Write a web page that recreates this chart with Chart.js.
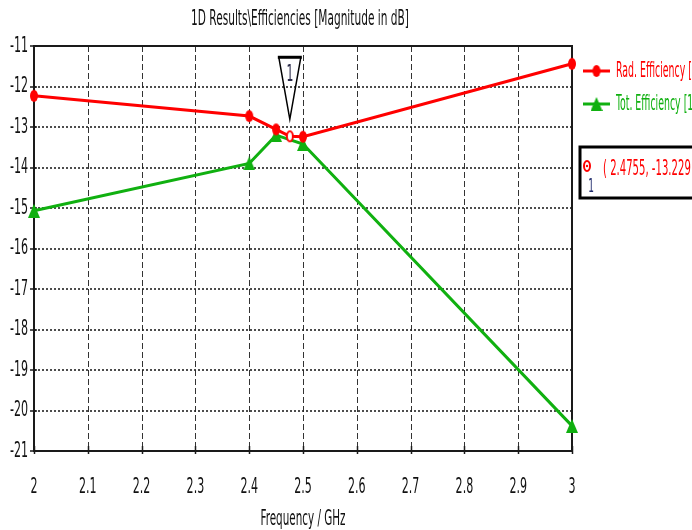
<!DOCTYPE html>
<html>
<head>
<meta charset="utf-8">
<title>1D Results - Efficiencies</title>
<script src="https://cdn.jsdelivr.net/npm/chart.js@4.4.1/dist/chart.umd.min.js"></script>
<style>
  html, body { margin: 0; padding: 0; background: #ffffff; }
  #wrap { width: 692px; height: 530px; }
</style>
</head>
<body>
<div id="wrap"><canvas id="chart" width="692" height="530"></canvas></div>
<script>
// Frequency sweep (GHz) and efficiencies (dB)
const radFreq = [2, 2.4, 2.45, 2.4755, 2.5, 3];
const radDb   = [-12.23, -12.73, -13.06, -13.229, -13.24, -11.44];
const totFreq = [2, 2.4, 2.45, 2.5, 3];
const totDb   = [-15.07, -13.9, -13.2, -13.42, -20.38];

// Marker 1 on the radiation efficiency curve
const markerFreq = [2.4755];
const markerDb   = [-13.229];
const markerIds  = ['1'];

// Axis ranges and labels
const xTicks = [2, 2.1, 2.2, 2.3, 2.4, 2.5, 2.6, 2.7, 2.8, 2.9, 3];
const yTicks = [-11, -12, -13, -14, -15, -16, -17, -18, -19, -20, -21];
const seriesNames = ['Rad. Efficiency [1]', 'Tot. Efficiency [1]'];
const titleText = '1D Results\\Efficiencies [Magnitude in dB]';
const xTitle = 'Frequency / GHz';

const RED = '#ff0000';
const GREEN = '#10b010';
const FONT = '"DejaVu Sans Condensed", "DejaVu Sans", sans-serif';
const TXT = { size: 11, sx: 1.0, sy: 1.95 };
const TICK = { sx: 1.12, sy: 2.0 };

function toPoints(xs, ys) { return xs.map((x, i) => ({ x: x, y: ys[i] })); }

// Small bitmap symbols used as point styles
function ellipseSymbol(w, h, fill, stroke, lw) {
  const c = document.createElement('canvas');
  c.width = w + 2; c.height = h + 2;
  const g = c.getContext('2d');
  g.beginPath();
  g.ellipse(c.width / 2, c.height / 2, w / 2 - (lw || 0) / 2, h / 2 - (lw || 0) / 2, 0, 0, Math.PI * 2);
  if (fill) { g.fillStyle = fill; g.fill(); }
  if (stroke) { g.strokeStyle = stroke; g.lineWidth = lw; g.stroke(); }
  return c;
}
function triangleSymbol(w, h, fill) {
  const c = document.createElement('canvas');
  c.width = w; c.height = h;
  const g = c.getContext('2d');
  g.beginPath();
  g.moveTo(w / 2, 0); g.lineTo(w, h); g.lineTo(0, h); g.closePath();
  g.fillStyle = fill; g.fill();
  return c;
}
const redDot = ellipseSymbol(8, 12, RED);
const greenTri = triangleSymbol(12, 14, GREEN);
const markerRing = ellipseSymbol(8, 12, '#ffffff', RED, 2);

function drawText(ctx, text, x, y, color, align, opts) {
  const o = Object.assign({}, TXT, opts || {});
  ctx.save();
  ctx.font = o.size + 'px ' + FONT;
  ctx.fillStyle = color;
  ctx.textAlign = align || 'center';
  ctx.textBaseline = 'middle';
  ctx.translate(x, y);
  ctx.scale(o.sx, o.sy);
  ctx.fillText(text, 0, 0);
  ctx.restore();
}

const fmtFreq = v => String(Number(v.toFixed(1)));

// Background, grid, frame and tick labels
const framePlugin = {
  id: 'frame',
  beforeDraw(chart) {
    const ctx = chart.ctx;
    ctx.save();
    ctx.fillStyle = '#ffffff';
    ctx.fillRect(0, 0, chart.width, chart.height);
    ctx.restore();
  },
  beforeDatasetsDraw(chart) {
    const { ctx, chartArea: a, scales: { x, y } } = chart;
    ctx.save();
    // vertical dashed grid
    ctx.strokeStyle = '#333333';
    ctx.lineWidth = 1;
    ctx.setLineDash([6, 3]);
    xTicks.forEach(v => {
      const px = Math.round(x.getPixelForValue(v)) + 0.5;
      if (px <= a.left + 1 || px >= a.right - 1) return;
      ctx.beginPath(); ctx.moveTo(px, a.top); ctx.lineTo(px, a.bottom); ctx.stroke();
    });
    // horizontal dotted grid
    ctx.strokeStyle = '#222222';
    ctx.lineWidth = 1.6;
    ctx.setLineDash([2, 2]);
    yTicks.forEach(v => {
      const py = Math.round(y.getPixelForValue(v));
      if (py <= a.top + 1 || py >= a.bottom - 1) return;
      ctx.beginPath(); ctx.moveTo(a.left, py); ctx.lineTo(a.right, py); ctx.stroke();
    });
    ctx.setLineDash([]);
    // frame
    ctx.strokeStyle = '#1a1a1a';
    ctx.lineWidth = 2;
    ctx.strokeRect(a.left, a.top, a.right - a.left, a.bottom - a.top);
    // tick marks
    ctx.lineWidth = 1.5;
    xTicks.forEach(v => {
      const px = Math.round(x.getPixelForValue(v)) + 0.5;
      ctx.beginPath(); ctx.moveTo(px, a.bottom - 5); ctx.lineTo(px, a.bottom + 3); ctx.stroke();
    });
    yTicks.forEach(v => {
      const py = Math.round(y.getPixelForValue(v));
      ctx.beginPath(); ctx.moveTo(a.left - 4, py); ctx.lineTo(a.left + 3, py); ctx.stroke();
    });
    ctx.restore();
    // tick labels
    xTicks.forEach(v => drawText(ctx, fmtFreq(v), x.getPixelForValue(v), a.bottom + 36, '#111111', 'center', TICK));
    yTicks.forEach(v => drawText(ctx, String(v), a.left - 6, y.getPixelForValue(v), '#111111', 'right', TICK));
  },
  afterDatasetsDraw(chart) {
    const { ctx, chartArea: a, scales: { x, y } } = chart;
    // title and axis title
    drawText(ctx, titleText, 300, 19, '#111111', 'center', { sx: 1.07 });
    drawText(ctx, xTitle, (a.left + a.right) / 2, 519, '#111111', 'center', { sx: 1.05 });

    // marker flag above the point
    ctx.save();
    markerFreq.forEach((f, i) => {
      const px = x.getPixelForValue(f);
      const py = y.getPixelForValue(markerDb[i]);
      const tip = py - 17, top = py - 79, half = 11;
      ctx.strokeStyle = '#000000';
      ctx.lineWidth = 1.5;
      ctx.beginPath();
      ctx.moveTo(px - half, top); ctx.lineTo(px, tip); ctx.lineTo(px + half, top);
      ctx.stroke();
      ctx.lineWidth = 3;
      ctx.beginPath(); ctx.moveTo(px - half - 1, top); ctx.lineTo(px + half + 1, top); ctx.stroke();
      drawText(ctx, markerIds[i], px, top + 18, '#2b2b4a', 'center', { size: 12 });
    });
    ctx.restore();

    // legend
    const lx = a.right + 11;
    const legend = [
      { name: seriesNames[0], color: RED, sym: redDot, y: 71 },
      { name: seriesNames[1], color: GREEN, sym: greenTri, y: 104 }
    ];
    legend.forEach(it => {
      ctx.save();
      ctx.strokeStyle = it.color; ctx.lineWidth = 3;
      ctx.beginPath(); ctx.moveTo(lx, it.y); ctx.lineTo(lx + 27, it.y); ctx.stroke();
      ctx.drawImage(it.sym, lx + 13.5 - it.sym.width / 2, it.y - it.sym.height / 2);
      ctx.restore();
      drawText(ctx, it.name, lx + 33, it.y, it.color, 'left', { sx: 0.95 });
    });

    // marker readout box
    ctx.save();
    ctx.strokeStyle = '#000000'; ctx.lineWidth = 3;
    ctx.strokeRect(a.right + 8, 147, 130, 51);
    ctx.drawImage(markerRing, a.right + 15 - markerRing.width / 2, 166 - markerRing.height / 2);
    ctx.fillStyle = RED;
    ctx.beginPath(); ctx.arc(a.right + 15, 166, 1.2, 0, Math.PI * 2); ctx.fill();
    ctx.restore();
    drawText(ctx, markerIds[0], a.right + 19, 187, '#1f2a6b', 'center', { size: 10 });
    drawText(ctx, '( ' + markerFreq[0] + ', ' + markerDb[0] + ' )', a.right + 31, 169, RED, 'left', { sx: 1.02 });
  }
};

new Chart(document.getElementById('chart'), {
  type: 'line',
  data: {
    datasets: [
      {
        label: 'Marker ' + markerIds[0],
        data: toPoints(markerFreq, markerDb),
        showLine: false,
        pointStyle: markerRing,
        pointRadius: 4,
        clip: false
      },
      {
        label: seriesNames[0],
        data: toPoints(radFreq, radDb),
        borderColor: RED,
        backgroundColor: RED,
        borderWidth: 3,
        pointStyle: redDot,
        pointRadius: c => (radFreq[c.dataIndex] === markerFreq[0] ? 0 : 4),
        tension: 0,
        clip: false
      },
      {
        label: seriesNames[1],
        data: toPoints(totFreq, totDb),
        borderColor: GREEN,
        backgroundColor: GREEN,
        borderWidth: 3,
        pointStyle: greenTri,
        pointRadius: 5,
        tension: 0,
        clip: false
      }
    ]
  },
  options: {
    responsive: false,
    animation: false,
    devicePixelRatio: 1,
    layout: { padding: { left: 0, right: 120, top: 46, bottom: 0 } },
    plugins: { legend: { display: false }, tooltip: { enabled: false }, title: { display: false } },
    scales: {
      x: {
        type: 'linear', min: 2, max: 3,
        ticks: { display: false, stepSize: 0.1 },
        grid: { display: false }, border: { display: false },
        afterFit(s) { s.height = 79; }
      },
      y: {
        type: 'linear', min: -21, max: -11,
        ticks: { display: false, stepSize: 1 },
        grid: { display: false }, border: { display: false },
        afterFit(s) { s.width = 34; }
      }
    }
  },
  plugins: [framePlugin]
});
</script>
</body>
</html>
